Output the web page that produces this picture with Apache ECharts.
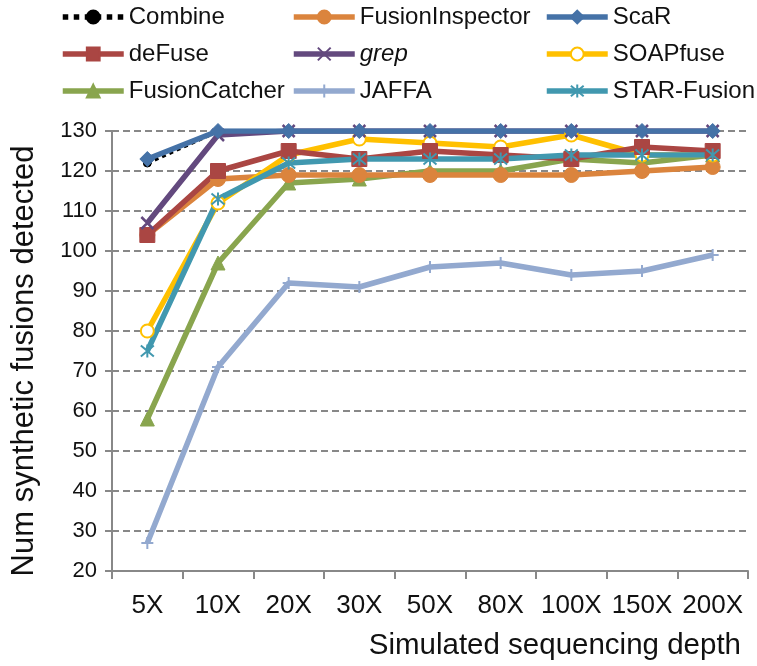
<!DOCTYPE html>
<html>
<head>
<meta charset="utf-8">
<script src="https://cdn.jsdelivr.net/npm/echarts@6/dist/echarts.min.js"></script>
<style>
html,body{margin:0;padding:0;background:#fff;}
#chart{width:757px;height:666px;}
</style>
</head>
<body>
<div id="chart"></div>
<script>
var categories = ['5X','10X','20X','30X','50X','80X','100X','150X','200X'];
var combine         = [122,130,130,130,130,130,130,130,130];
var fusionInspector = [104,118,119,119,119,119,119,120,121];
var scaR            = [123,130,130,130,130,130,130,130,130];
var deFuse          = [104,120,125,123,125,124,123,126,125];
var grep            = [107,129,130,130,130,130,130,130,130];
var soapFuse        = [80,112,124,128,127,126,129,124,124];
var fusionCatcher   = [58,97,117,118,120,120,123,122,124];
var jaffa           = [27,71,92,91,96,97,94,95,99];
var starFusion      = [75,113,122,123,123,123,124,124,124];
var yTicks = {min:20, max:130, interval:10};

var FONT = '"Liberation Sans", Arial, sans-serif';
var crossPath = 'path://M0,0L10,10M10,0L0,10';
var plusPath = 'path://M5,0L5,10M0,5L10,5';
var starPath = 'path://M0,0L10,10M10,0L0,10M5,-1L5,11';

function mk(name, data, color, symbol, size, extra) {
  var s = {
    name: name, type: 'line', data: data,
    symbol: symbol, symbolSize: size, showAllSymbol: true,
    lineStyle: {color: color, width: 5.5},
    itemStyle: {color: color, borderColor: color, borderWidth: 1},
    emphasis: {disabled: true},
    animation: false
  };
  if (extra) extra(s);
  return s;
}
var C = {
  combine:'#000000', fi:'#DB843D', scar:'#4572A7', defuse:'#AA4643', grep:'#63497E',
  soap:'#FFC000', fc:'#89A54E', jaffa:'#93A9CF', star:'#4198AF'
};
var series = [
  mk('Combine', combine, C.combine, 'circle', 8, function(s){ s.lineStyle.type='dotted'; s.lineStyle.width=4; }),
  mk('JAFFA', jaffa, C.jaffa, plusPath, 12, function(s){ s.itemStyle.borderWidth=2; }),
  mk('FusionCatcher', fusionCatcher, C.fc, 'triangle', 14),
  mk('FusionInspector', fusionInspector, C.fi, 'circle', 15),
  mk('SOAPfuse', soapFuse, C.soap, 'emptyCircle', 13, function(s){ s.itemStyle = {color:C.soap, borderColor:C.soap, borderWidth:2}; }),
  mk('deFuse', deFuse, C.defuse, 'rect', 15),
  mk('STAR-Fusion', starFusion, C.star, starPath, 13, function(s){ s.itemStyle.borderWidth=2; }),
  mk('grep', grep, C.grep, crossPath, 12, function(s){ s.itemStyle.borderWidth=2.5; }),
  mk('ScaR', scaR, C.scar, 'diamond', 15)
];

function lg(left, data){
  return {
    orient: 'vertical', top: 5, left: left, data: data, padding: 0,
    itemWidth: 61, itemHeight: 16, itemGap: 13,
    lineStyle: {width: 5.5},
    textStyle: {fontFamily: FONT, fontSize: 24, color: '#111',
      rich: {i: {fontStyle: 'italic', fontFamily: FONT, fontSize: 24, color: '#111'}}},
    formatter: function(n){ return n === 'grep' ? '{i|grep}' : n; },
    selectedMode: false
  };
}

var chart = echarts.init(document.getElementById('chart'), null, {renderer:'canvas'});
chart.setOption({
  backgroundColor: '#fff',
  animation: false,
  legend: [
    lg(60, ['Combine','deFuse','FusionCatcher']),
    lg(291, ['FusionInspector','grep','JAFFA']),
    lg(544, ['ScaR','SOAPfuse','STAR-Fusion'])
  ],
  title: {
    text: 'Simulated sequencing depth', right: 11, top: 626,
    textStyle: {fontFamily: FONT, fontSize: 29.5, fontWeight: 'normal', color: '#111'}
  },
  grid: {left: 112, top: 131, right: 9, bottom: 95},
  xAxis: {
    type: 'category', data: categories, boundaryGap: true,
    axisLine: {lineStyle: {color: '#888', width: 2}},
    axisTick: {show: true, alignWithLabel: false, length: 8, lineStyle: {color: '#888', width: 2}},
    axisLabel: {fontFamily: FONT, fontSize: 26, color: '#111', margin: 22, interval: 0},
    splitLine: {show: false}
  },
  yAxis: {
    type: 'value', min: yTicks.min, max: yTicks.max, interval: yTicks.interval,
    name: 'Num synthetic fusions detected', nameLocation: 'middle', nameGap: 72, nameRotate: 90,
    nameTextStyle: {fontFamily: FONT, fontSize: 31, color: '#111', padding: [0, 20, 0, 0]},
    axisLine: {show: true, lineStyle: {color: '#888', width: 2}},
    axisTick: {show: true, length: 7, lineStyle: {color: '#888', width: 2}},
    axisLabel: {fontFamily: FONT, fontSize: 22, color: '#111', margin: 15},
    splitLine: {show: true, lineStyle: {color: '#888', width: 2, type: [7, 4]}}
  },
  series: series
});
</script>
</body>
</html>
